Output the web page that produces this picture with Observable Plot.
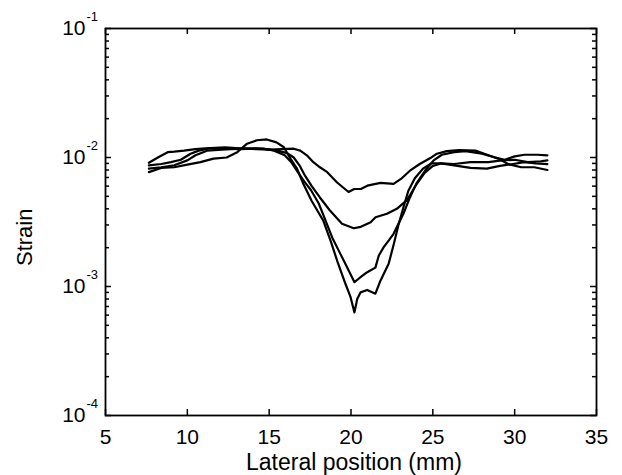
<!DOCTYPE html>
<html><head><meta charset="utf-8">
<script src="https://cdn.jsdelivr.net/npm/d3@7"></script>
<script src="https://cdn.jsdelivr.net/npm/@observablehq/plot@0.6"></script>
<style>html,body{margin:0;padding:0;background:#fff;} svg{display:block;}</style>
</head><body><div id="chart"></div>
<script>
// Strain vs lateral position — four profiles, [x (mm), strain]
const curveA = [[7.65,9.1e-3],[8.2,1.0e-2],[8.8,1.1e-2],[9.2,1.11e-2],[9.8,1.13e-2],[10.5,1.16e-2],[11.1,1.18e-2],[11.7,1.19e-2],[12.3,1.2e-2],[13.2,1.18e-2],[14.2,1.16e-2],[15.0,1.15e-2],[15.8,1.16e-2],[16.5,1.17e-2],[16.9,1.13e-2],[17.3,1.04e-2],[17.7,9.2e-3],[18.1,8.4e-3],[18.55,7.7e-3],[19.15,6.4e-3],[19.85,5.4e-3],[20.2,5.7e-3],[20.6,5.7e-3],[21.0,6.05e-3],[21.8,6.35e-3],[22.6,6.25e-3],[23.1,6.9e-3],[23.6,7.9e-3],[24.2,8.9e-3],[24.85,9.9e-3],[25.25,1.07e-2],[25.85,1.12e-2],[26.6,1.14e-2],[27.6,1.13e-2],[28.4,1.04e-2],[29.0,9.8e-3],[29.6,8.9e-3],[30.4,8.4e-3],[31.2,8.4e-3],[32.0,8.0e-3]];
const curveB = [[7.65,8.2e-3],[8.4,8.4e-3],[9.2,8.7e-3],[10.0,9.5e-3],[10.5,1.04e-2],[11.2,1.13e-2],[12.1,1.15e-2],[13.2,1.17e-2],[14.2,1.18e-2],[14.8,1.16e-2],[15.5,1.13e-2],[16.1,1.08e-2],[16.5,1.0e-2],[16.85,8.7e-3],[17.2,7.2e-3],[17.6,6.0e-3],[18.1,4.9e-3],[18.7,3.9e-3],[19.45,3.06e-3],[20.17,2.83e-3],[20.6,2.9e-3],[21.2,3.15e-3],[21.5,3.44e-3],[22.2,3.66e-3],[22.8,4.0e-3],[23.4,4.65e-3],[23.6,5.1e-3],[24.0,6.2e-3],[24.5,7.6e-3],[25.0,8.6e-3],[25.5,9.0e-3],[26.3,8.9e-3],[27.3,9.2e-3],[28.4,9.2e-3],[29.2,9.5e-3],[30.0,9.6e-3],[30.8,9.2e-3],[31.6,9.35e-3],[32.0,9.5e-3]];
const curveC = [[7.65,8.7e-3],[8.4,8.9e-3],[9.0,9.2e-3],[9.6,9.6e-3],[10.2,1.07e-2],[10.7,1.13e-2],[11.4,1.18e-2],[12.2,1.17e-2],[13.2,1.16e-2],[14.2,1.17e-2],[14.7,1.17e-2],[15.3,1.13e-2],[15.95,1.04e-2],[16.35,9.2e-3],[16.75,7.7e-3],[17.15,6.5e-3],[17.55,5.6e-3],[18.03,4.4e-3],[18.44,3.25e-3],[18.85,2.4e-3],[19.35,1.79e-3],[19.76,1.41e-3],[20.21,1.08e-3],[20.58,1.18e-3],[20.99,1.29e-3],[21.49,1.40e-3],[21.7,1.74e-3],[22.0,2.02e-3],[22.3,2.27e-3],[22.6,2.56e-3],[22.9,3.06e-3],[23.2,3.66e-3],[23.6,4.9e-3],[24.0,6.3e-3],[24.55,8.0e-3],[25.05,9.5e-3],[25.55,1.05e-2],[26.3,1.1e-2],[27.0,1.12e-2],[28.0,1.07e-2],[28.8,1.0e-2],[29.4,9.6e-3],[30.0,1.02e-2],[30.6,1.05e-2],[31.4,1.05e-2],[32.0,1.04e-2]];
const curveD = [[7.65,7.7e-3],[8.4,8.3e-3],[9.2,8.4e-3],[10.0,8.8e-3],[10.8,9.2e-3],[11.6,9.8e-3],[12.4,1.0e-2],[13.05,1.1e-2],[13.65,1.28e-2],[14.25,1.36e-2],[14.85,1.38e-2],[15.45,1.31e-2],[15.9,1.2e-2],[16.3,9.8e-3],[16.7,8.2e-3],[17.1,6.2e-3],[17.6,4.6e-3],[18.3,3.25e-3],[18.75,2.27e-3],[19.15,1.59e-3],[19.66,1.05e-3],[19.97,8.3e-4],[20.21,6.3e-4],[20.38,8.0e-4],[20.58,9.0e-4],[20.99,9.4e-4],[21.49,8.8e-4],[21.8,1.11e-3],[22.3,1.5e-3],[22.6,2.1e-3],[22.9,3.0e-3],[23.2,4.1e-3],[23.5,5.5e-3],[23.9,6.9e-3],[24.4,8.2e-3],[24.9,9.0e-3],[25.5,9.0e-3],[26.3,8.7e-3],[27.3,8.3e-3],[28.3,8.2e-3],[29.1,8.6e-3],[29.9,8.9e-3],[30.6,9.2e-3],[31.3,9.0e-3],[32.0,8.9e-3]];

const xTicks = [5, 10, 15, 20, 25, 30, 35];
const yTicks = [1e-4, 1e-3, 1e-2, 1e-1];
const yTickExps = ["-4", "-3", "-2", "-1"];
const yMinorMults = [2, 3, 4, 5, 6, 7, 8, 9];
const xLabel = "Lateral position (mm)";
const yLabel = "Strain";

const W = 622, H = 475, mL = 105, mR = 26, mT = 28, mB = 60;
const innerW = W - mL - mR, innerH = H - mT - mB;
const yMinor = yTicks.slice(0, -1).flatMap(d => yMinorMults.map(m => d * m));
const rows = [curveA, curveB, curveC, curveD].flatMap((c, k) => c.map(([x, y]) => ({x, y, id: k})));

const chart = Plot.plot({
  width: W, height: H,
  marginLeft: mL, marginRight: mR, marginTop: mT, marginBottom: mB,
  style: {fontFamily: "'Liberation Sans', Arial, Helvetica, sans-serif", background: "white", color: "black", overflow: "visible"},
  x: {domain: [5, 35]},
  y: {type: "log", domain: [1e-4, 1e-1], axis: null},
  marks: [
    Plot.axisX(xTicks, {tickSize: 0, tickPadding: 14, fontSize: 21, label: null, tickFormat: d => String(d)}),
    Plot.tickX(xTicks, {x: d => d, insetTop: innerH - 6, stroke: "black", strokeWidth: 1.5}),
    Plot.tickX(xTicks, {x: d => d, insetBottom: innerH - 6, stroke: "black", strokeWidth: 1.5}),
    Plot.tickY(yTicks, {y: d => d, insetRight: innerW - 6, stroke: "black", strokeWidth: 1.5}),
    Plot.tickY(yTicks, {y: d => d, insetLeft: innerW - 6, stroke: "black", strokeWidth: 1.5}),
    Plot.tickY(yMinor, {y: d => d, insetRight: innerW - 4, stroke: "black", strokeWidth: 1.5}),
    Plot.tickY(yMinor, {y: d => d, insetLeft: innerW - 4, stroke: "black", strokeWidth: 1.5}),
    Plot.line(rows, {x: "x", y: "y", z: "id", stroke: "black", strokeWidth: 2.2}),
    Plot.frame({stroke: "black", strokeWidth: 1.8}),
    Plot.text(yTicks, {y: d => d, frameAnchor: "left", text: () => "10", textAnchor: "end", dx: -20, fontSize: 21}),
    Plot.text(yTicks, {y: d => d, frameAnchor: "left", text: (d, i) => yTickExps[i], textAnchor: "start", dx: -19, dy: -12, fontSize: 13}),
    Plot.text([xLabel], {frameAnchor: "bottom", text: d => d, dy: 54, dx: 3, fontSize: 23}),
    Plot.text([yLabel], {frameAnchor: "left", text: d => d, rotate: -90, dx: -81, dy: 44, fontSize: 22})
  ]
});
document.getElementById("chart").appendChild(chart);
</script>
</body></html>
